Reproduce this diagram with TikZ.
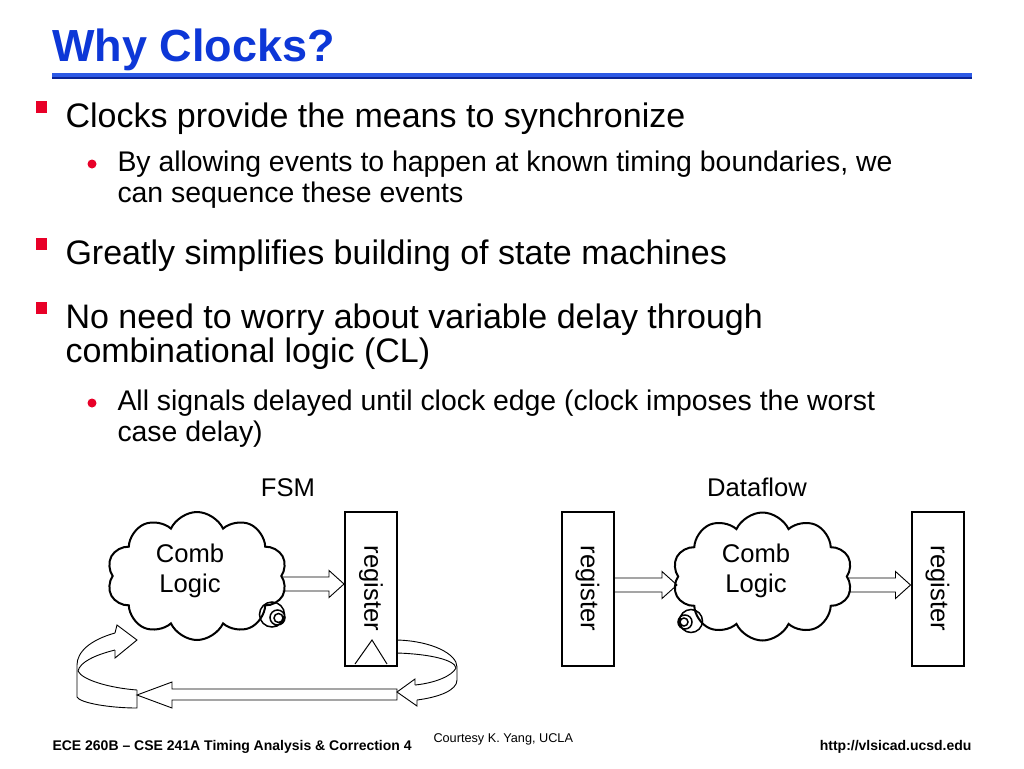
\documentclass[tikz,border=0pt]{standalone}
\usepackage{fontspec}
\setmainfont{Liberation Sans}
\usetikzlibrary{shapes.symbols,calc}
\definecolor{titleblue}{RGB}{13,55,215}
\definecolor{ruleblue}{RGB}{45,90,230}
\definecolor{ruledark}{RGB}{10,35,150}
\definecolor{bulred}{RGB}{232,0,40}
% hollow block arrow from #1 to #2 (x of the anchors), at height #3
\newcommand{\blockarrow}[3]{%
  \draw[ribbon] let \p1=(#1 |- 0,#3), \p2=(#2 |- 0,#3) in
    (\x1,\y1+7pt) -- (\x2-15pt,\y1+7pt) -- (\x2-15pt,\y1+13.5pt) -- (\x2,\y1)
    -- (\x2-15pt,\y1-13.5pt) -- (\x2-15pt,\y1-7pt) -- (\x1,\y1-7pt);}
\begin{document}
\begin{tikzpicture}[x=1pt, y=-1pt, line width=1pt,
    txt/.style={anchor=base west, inner sep=0pt},
    big/.style={font=\fontsize{34}{40}\selectfont},
    small/.style={font=\fontsize{28.4}{31}\selectfont},
    dia/.style={font=\fontsize{25.6}{30}\selectfont, inner sep=0pt},
    foot/.style={font=\fontsize{14}{16}\selectfont\bfseries, inner sep=0pt},
    regbox/.style={draw, line width=2pt, minimum width=52pt, minimum height=154pt, inner sep=0pt},
    comb/.style={draw, cloud, cloud puffs=10, cloud puff arc=130, aspect=1.4, line width=2pt,
      minimum width=180pt, minimum height=128pt, inner sep=0pt},
    ribbon/.style={line width=0.9pt}]
  \useasboundingbox[fill=white] (0,0) rectangle (1024,768);

  % title
  \node[txt, font=\fontsize{45}{50}\selectfont\bfseries, text=titleblue] (title) at (52,61) {Why Clocks?};
  \fill[ruleblue] (52,72.7) rectangle (972,76.5);
  \fill[ruledark] (52,76.5) rectangle (972,79);

  % bullets
  \fill[bulred] (36,101) rectangle (47,113);
  \node[txt, big] (b1) at (65,127) {Clocks provide the means to synchronize};
  \fill[bulred] (92,164) circle (4.5);
  \node[txt, small] (s1a) at (117,171) {By allowing events to happen at known timing boundaries, we};
  \node[txt, small] (s1b) at (117,202) {can sequence these events};
  \fill[bulred] (36,238) rectangle (47,250);
  \node[txt, big] (b2) at (65,264) {Greatly simplifies building of state machines};
  \fill[bulred] (36,302) rectangle (47,314);
  \node[txt, big] (b3a) at (65,328) {No need to worry about variable delay through};
  \node[txt, big] (b3b) at (65,362) {combinational logic (CL)};
  \fill[bulred] (92,403) circle (4.5);
  \node[txt, small] (s3a) at (117,410) {All signals delayed until clock edge (clock imposes the worst};
  \node[txt, small] (s3b) at (117,441) {case delay)};

  % FSM
  \node[dia, anchor=base] (fsm) at (288,496) {FSM};
  \node[comb] (fcl) at (197,576) {};
  \node[dia, align=center] (fclt) at (190,571) {Comb\\Logic};
  \node[regbox] (freg) at (371,588.5) {};
  \node[dia, rotate=-90] (fregt) at (freg) {register};
  \draw[line width=1pt] (355,664) -- (372,640) -- (387,664);
  \blockarrow{fcl.east}{freg.west}{584}
  \draw[line width=1.5pt] (272,614.5) circle (12.5) (277.5,617.5) circle (7.5) (278.5,618) circle (4.5);
  % feedback
  \draw[ribbon] (397,640) .. controls (432,641) and (457,654) .. (457,667) -- (457,680)
    .. controls (457,690) and (440,697) .. (417,700);
  \draw[ribbon] (397,653) .. controls (430,654) and (455,660) .. (456,668)
    .. controls (452,676) and (435,683) .. (415,685);
  \draw[ribbon] (415,685) -- (415,679) -- (397,692) -- (417,706) -- (417,700);
  \draw[ribbon] (397,689) -- (172,689) -- (172,682) -- (137,695) -- (172,708) -- (172,700) -- (397,700) -- cycle;
  \draw[ribbon] (115,633) .. controls (90,640) and (77,652) .. (77,665) -- (77,697)
    .. controls (80,703) and (110,708) .. (137,708) -- (137,690);
  \draw[ribbon] (115,650) .. controls (95,655) and (80,662) .. (78,671)
    .. controls (82,680) and (110,688) .. (137,690);
  \draw[ribbon] (115,633) -- (117,625) -- (137,640) -- (115,658) -- (115,650);

  % Dataflow
  \node[dia, anchor=base] (dfl) at (757,496) {Dataflow};
  \node[regbox] (dreg1) at (587.5,588.5) {};
  \node[dia, rotate=-90] (dreg1t) at (dreg1) {register};
  \node[comb] (dcl) at (762.5,576.5) {};
  \node[dia, align=center] (dclt) at (756,571) {Comb\\Logic};
  \node[regbox] (dreg2) at (937.5,588.5) {};
  \node[dia, rotate=-90] (dreg2t) at (dreg2) {register};
  \blockarrow{dreg1.east}{dcl.west}{585}
  \blockarrow{dcl.east}{dreg2.west}{585}
  \draw[line width=1.5pt] (691,621) circle (11.5) (685,622) circle (7) (684,622) circle (4);

  % footer
  \node[txt, foot] (ftl) at (52,750) {ECE 260B – CSE 241A Timing Analysis \& Correction 4};
  \node[txt, font=\fontsize{12.7}{14}\selectfont] (ftc) at (433,742.5) {Courtesy K. Yang, UCLA};
  \node[foot, anchor=base east] (ftr) at (972,750) {http://vlsicad.ucsd.edu};
\end{tikzpicture}
\end{document}
